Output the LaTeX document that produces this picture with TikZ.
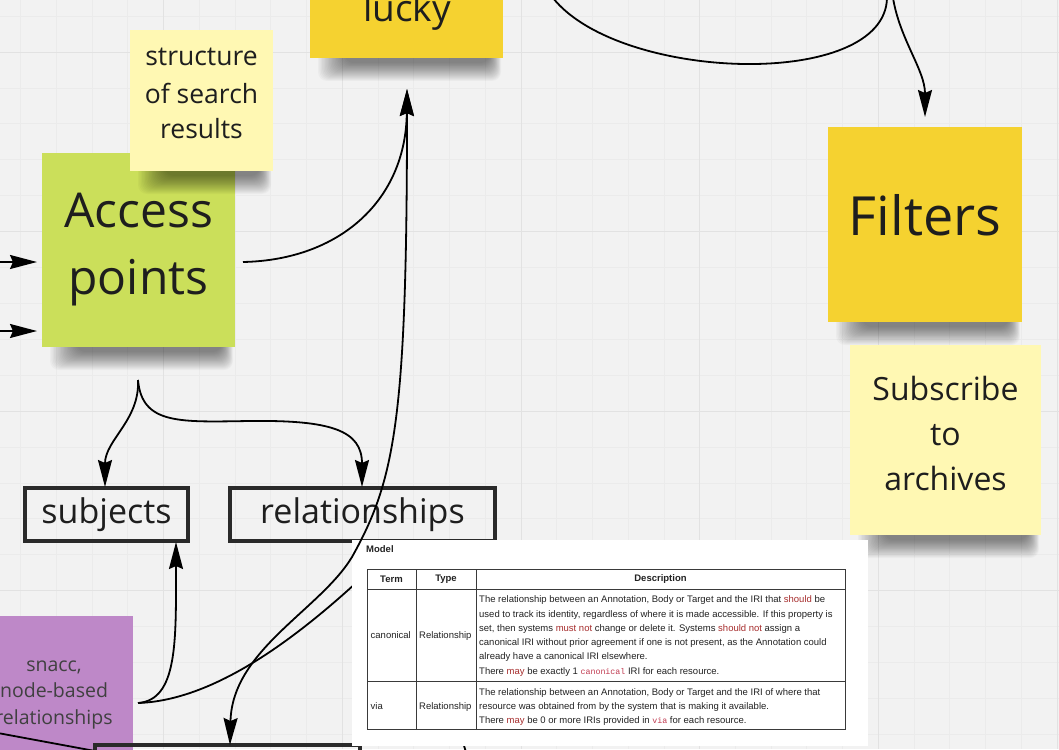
\documentclass[tikz,border=0pt]{standalone}
\usepackage{fontspec}
\setmainfont{Open Sans}
\newfontfamily\specfont{Liberation Sans}
\newfontfamily\specmono{Liberation Mono}
\usetikzlibrary{arrows.meta}

\definecolor{canvas}{HTML}{F2F2F2}
\definecolor{gridminor}{HTML}{EBEBEB}
\definecolor{gridmajor}{HTML}{E2E2E2}
\definecolor{stickyyellow}{HTML}{F5D230}
\definecolor{stickypale}{HTML}{FFF8B3}
\definecolor{stickygreen}{HTML}{CBDF5A}
\definecolor{stickypurple}{HTML}{BE88C8}
\definecolor{ink}{HTML}{1E1E1E}
\definecolor{boxline}{HTML}{2A2A2A}
\definecolor{spectext}{HTML}{222222}
\definecolor{specrule}{HTML}{3A3A3A}
\definecolor{rfcred}{HTML}{A62C2C}
\definecolor{codered}{HTML}{C0394F}

% RFC 2119 keywords and inline code in the spec table
\newcommand{\rfc}[1]{\textcolor{rfcred}{#1}}
\newcommand{\kw}[1]{{\specmono\fontsize{8.3}{10}\selectfont\color{codered}#1}}

% soft shadow under the lower edge of a sticky note: left, right, bottom
\newcommand{\notesh}[3]{%
  \foreach \i in {0,...,19}{%
    \fill[black,opacity=0.026,rounded corners=9pt]
      ({#1+8+1.4*\i},{#3-14}) rectangle ({#2-2-0.6*\i},{#3+23-0.95*\i});}}

\begin{document}
\begin{tikzpicture}[x=1pt,y=-1pt,
  sticky/.style={inner sep=0pt, outer sep=0pt},
  notetext/.style={anchor=base, text=ink, inner sep=0pt},
  conn/.style={line width=1.8pt, draw=black},
  tip/.style={-{Stealth[length=27pt,width=14pt,inset=3pt]}},
  arr/.style={conn, tip},
  framebox/.style={draw=boxline, line width=3.5pt, inner sep=0pt},
  spec/.style={font=\specfont\fontsize{9.5}{11}\selectfont, text=spectext, inner sep=0pt},
  specrow/.style={spec, anchor=base west},
  specrules/.style={draw=specrule, line width=0.9pt}
]
\useasboundingbox (0,0) rectangle (1059,749);
\clip (0,0) rectangle (1059,749);

% canvas and grid
\fill[canvas] (0,0) rectangle (1059,749);
\foreach \k in {0,...,29}{\pgfmathsetmacro\gx{20.6+35.74*\k}
  \draw[gridminor,line width=0.8pt] (\gx,0) -- (\gx,749);}
\foreach \k in {0,...,20}{\pgfmathsetmacro\gy{16.2+35.9*\k}
  \draw[gridminor,line width=0.8pt] (0,\gy) -- (1059,\gy);}
\foreach \gx in {163.6,342.3,521,699.7,878.4,1057.1}
  \draw[gridmajor,line width=1pt] (\gx,0) -- (\gx,749);
\foreach \gy in {52.1,231.6,411.1,590.6}
  \draw[gridmajor,line width=1pt] (0,\gy) -- (1059,\gy);

% sticky notes
\notesh{310}{503}{58}
\notesh{42}{235}{347}
\notesh{828}{1022}{322}
\notesh{850}{1041}{535}
\notesh{-60}{133}{809}
\node[sticky, fill=stickyyellow, minimum width=193pt, minimum height=193pt] (lucky) at (406.5,-38.5) {};
\node[notetext, font=\fontsize{37}{50}\selectfont] (luckytext) at (407,22) {lucky};

\node[sticky, fill=stickygreen, minimum width=193pt, minimum height=194pt] (access) at (138.5,250) {};
\node[notetext, font=\fontsize{48}{66}\selectfont] (accesstext) at (138.5,227) {Access};
\node[notetext, font=\fontsize{48}{66}\selectfont] (pointstext) at (138.5,294) {points};

\node[sticky, fill=stickyyellow, minimum width=194pt, minimum height=195pt] (filters) at (925,224.5) {};
\node[notetext, font=\fontsize{54}{70}\selectfont] (filterstext) at (925,235) {Filters};

\node[sticky, fill=stickypale, minimum width=191pt, minimum height=190pt] (subscribe) at (945.5,440) {};
\node[notetext, font=\fontsize{32}{45}\selectfont] (sub1) at (945.5,400) {Subscribe};
\node[notetext, font=\fontsize{32}{45}\selectfont] (sub2) at (945.5,445) {to};
\node[notetext, font=\fontsize{32}{45}\selectfont] (sub3) at (945.5,490) {archives};

\node[sticky, fill=stickypurple, minimum width=193pt, minimum height=193pt] (snacc) at (36.5,712.5) {};
\node[notetext, font=\fontsize{19.5}{27}\selectfont, text=black!75] (sn1) at (54,671) {snacc,};
\node[notetext, font=\fontsize{19.5}{27}\selectfont, text=black!75] (sn2) at (54,697) {node-based};
\node[notetext, font=\fontsize{19.5}{27}\selectfont, text=black!75] (sn3) at (54,724) {relationships};

\notesh{130}{273}{171}
\node[sticky, fill=stickypale, minimum width=143pt, minimum height=141pt] (structure) at (201.5,100.5) {};
\node[notetext, font=\fontsize{26.5}{36}\selectfont] (st1) at (201.5,66) {structure};
\node[notetext, font=\fontsize{26.5}{36}\selectfont] (st2) at (201.5,103) {of search};
\node[notetext, font=\fontsize{26.5}{36}\selectfont] (st3) at (201.5,139) {results};

% framed terms
\node[framebox, minimum width=163pt, minimum height=53pt] (subjects) at (106.5,514.5) {};
\node[notetext, font=\fontsize{34}{40}\selectfont] (subjectstext) at (106.5,523) {subjects};
\node[framebox, minimum width=265pt, minimum height=53pt] (relationships) at (362.5,514.5) {};
\node[notetext, font=\fontsize{34}{40}\selectfont] (relationshipstext) at (362.5,523) {relationships};
\node[framebox, minimum width=265pt, minimum height=60pt] (lower) at (227.5,775) {};

% connector end points
\coordinate (in1a) at (-5,262);   \coordinate (in1b) at (37,262);
\coordinate (in2a) at (-5,331);   \coordinate (in2b) at (37,331);
\coordinate (accout) at (243,262);
\coordinate (luckyin) at (407,89);
\coordinate (accbelow) at (138,380);
\coordinate (subjin) at (105,487);
\coordinate (relin) at (362,487);
\coordinate (snaccout) at (138,703);
\coordinate (subjbelow) at (176,542);
\coordinate (relbelow) at (398,543);
\coordinate (lowerin) at (230,745);
\coordinate (leftfrom) at (-40,726);
\coordinate (lowerleft) at (95,751);
\coordinate (loopa) at (553,-2);
\coordinate (loopb) at (887,-2);
\coordinate (filtfrom) at (893,-2);
\coordinate (filtin) at (925,117);
\coordinate (stubA) at (452,728);
\coordinate (stubB) at (467,756);

% connectors
\draw[arr] (in1a) -- (in1b);
\draw[arr] (in2a) -- (in2b);
\draw[arr] (accout) .. controls (340,260) and (406,200) .. (luckyin);
\draw[arr] (accbelow) .. controls (140,420) and (105,440) .. (subjin);
\draw[arr] (accbelow) .. controls (142,425) and (180,422) .. (250,421)
                      .. controls (330,420) and (362,430) .. (relin);
\draw[arr] (snaccout) .. controls (178,700) and (176,640) .. (subjbelow);
\draw[conn] (snaccout) .. controls (230,700) and (330,610) .. (relbelow);
\draw[conn] (leftfrom) -- (lowerleft);
\draw[conn] (loopa) .. controls (620,82) and (885,90) .. (loopb);
\draw[arr] (filtfrom) .. controls (900,40) and (925,70) .. (filtin);
\draw[conn] (stubA) .. controls (462,738) .. (stubB);

% pasted spec table
\node[fill=white, inner sep=0pt, minimum width=516pt, minimum height=206pt] (specsheet) at (610,643) {};
\node[spec, anchor=west, font=\specfont\bfseries\fontsize{9.5}{11}\selectfont] (model) at (366,549) {Model};
\draw[specrules] (367,569) rectangle (845,729);
\draw[specrules] (367,589) -- (845,589);
\draw[specrules] (367,681) -- (845,681);
\draw[specrules] (416,569) -- (416,729);
\draw[specrules] (476,569) -- (476,729);
\node[spec, font=\specfont\bfseries\fontsize{9.5}{11}\selectfont] (hterm) at (391.5,579) {Term};
\node[spec, font=\specfont\bfseries\fontsize{9.5}{11}\selectfont] (htype) at (446,579) {Type};
\node[spec, font=\specfont\bfseries\fontsize{9.5}{11}\selectfont] (hdesc) at (660.5,579) {Description};

\node[specrow] (c1) at (370.5,638.5) {canonical};
\node[specrow] (c2) at (419,638.5) {Relationship};
\node[specrow] (d1) at (479,602.5) {The relationship between an Annotation, Body or Target and the IRI that \rfc{should} be};
\node[specrow] (d2) at (479,617) {used to track its identity, regardless of where it is made accessible. If this property is};
\node[specrow] (d3) at (479,631.5) {set, then systems \rfc{must not} change or delete it. Systems \rfc{should not} assign a};
\node[specrow] (d4) at (479,645.5) {canonical IRI without prior agreement if one is not present, as the Annotation could};
\node[specrow] (d5) at (479,659.5) {already have a canonical IRI elsewhere.};
\node[specrow] (d6) at (479,674) {There \rfc{may} be exactly 1 \kw{canonical} IRI for each resource.};

\node[specrow] (v1) at (370.5,709.5) {via};
\node[specrow] (v2) at (419,709.5) {Relationship};
\node[specrow] (e1) at (479,695.5) {The relationship between an Annotation, Body or Target and the IRI of where that};
\node[specrow] (e2) at (479,709.5) {resource was obtained from by the system that is making it available.};
\node[specrow] (e3) at (479,723.5) {There \rfc{may} be 0 or more IRIs provided in \kw{via} for each resource.};

% long link from the lucky note down to the lower frame
\draw[conn, {Stealth[length=27pt,width=14pt,inset=3pt]}-{Stealth[length=27pt,width=14pt,inset=3pt]}]
  (luckyin) .. controls (407,420) and (395,480) .. (352,557)
            .. controls (320,610) and (232,650) .. (lowerin);
\end{tikzpicture}
\end{document}
